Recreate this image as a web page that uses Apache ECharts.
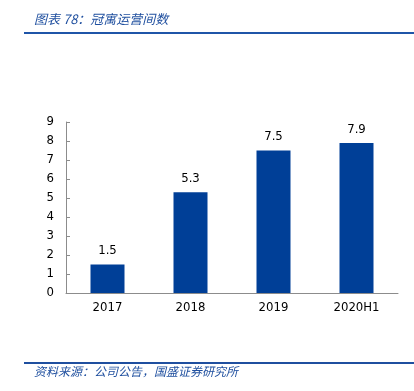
<!DOCTYPE html>
<html>
<head>
<meta charset="utf-8">
<script src="https://cdn.jsdelivr.net/npm/echarts@6/dist/echarts.min.js"></script>
<style>
  html, body { margin: 0; padding: 0; background: #fff; }
  #main { width: 414px; height: 391px; }
</style>
</head>
<body>
<div id="main"></div>
<script>
var chart = echarts.init(document.getElementById('main'));

var categories = ['2017', '2018', '2019', '2020H1'];
var values = [1.5, 5.3, 7.5, 7.9];
var titleText = '图表 78：冠寓运营间数';
var sourceText = '资料来源：公司公告，国盛证券研究所';

var labelFont = '"DejaVu Sans Condensed", "DejaVu Sans", sans-serif';

var option = {
    animation: false,
    grid: {
        left: 66,
        right: 16,
        top: 122,
        bottom: 98
    },
    graphic: [
        {
            type: 'text',
            left: 34,
            top: 13,
            style: {
                text: titleText,
                fill: '#1f4f9f',
                font: 'italic 13px "Noto Sans CJK SC"'
            }
        },
        {
            type: 'rect',
            shape: { x: 24, y: 32, width: 390, height: 2 },
            style: { fill: '#1f55a8' }
        },
        {
            type: 'rect',
            shape: { x: 24, y: 362, width: 390, height: 2 },
            style: { fill: '#1f4f9f' }
        },
        {
            type: 'text',
            left: 34,
            top: 365,
            style: {
                text: sourceText,
                fill: '#1f4f9f',
                font: 'italic 12px "Noto Sans CJK SC"'
            }
        }
    ],
    xAxis: {
        type: 'category',
        data: categories,
        axisLine: { lineStyle: { color: '#8c8c8c' } },
        axisTick: { inside: true, length: 4, lineStyle: { color: '#8c8c8c' } },
        axisLabel: {
            color: '#000',
            fontSize: 13,
            fontFamily: labelFont,
            margin: 8
        }
    },
    yAxis: {
        type: 'value',
        min: 0,
        max: 9,
        interval: 1,
        splitLine: { show: false },
        axisLine: { show: true, lineStyle: { color: '#8c8c8c' } },
        axisTick: { show: true, inside: true, length: 4, lineStyle: { color: '#8c8c8c' } },
        axisLabel: {
            color: '#000',
            fontSize: 13,
            fontFamily: labelFont,
            margin: 12
        }
    },
    series: [
        {
            type: 'bar',
            data: values,
            barWidth: 34,
            itemStyle: { color: '#003f97' },
            label: {
                show: true,
                position: 'top',
                distance: 7,
                color: '#000',
                fontSize: 13,
                fontFamily: labelFont
            }
        }
    ]
};
chart.setOption(option);
</script>
</body>
</html>
